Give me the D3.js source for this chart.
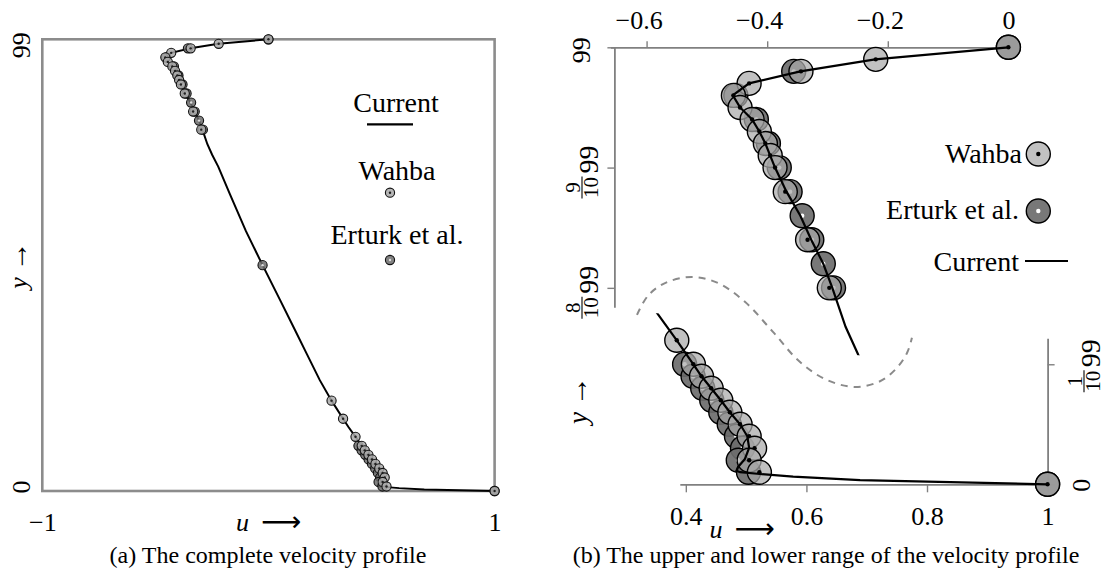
<!DOCTYPE html>
<html><head><meta charset="utf-8">
<script src="https://cdn.jsdelivr.net/npm/d3@7"></script>
<style>
body{margin:0;background:#fff}
text{font-family:'Liberation Serif','Times New Roman',serif;fill:#000}
</style>
</head><body>
<svg id="c" width="1108" height="576"></svg>
<script>
// ---------------- data ----------------
const currentY = [99, 98.01, 97.02, 96.03, 95.04, 94.05, 93.06, 92.07, 91.08, 90.09, 89.1, 87.12, 85.14, 83.16, 81.18, 79.2, 76, 73.7, 71.1, 65, 57, 49.5, 42, 35, 30, 24.3, 19.8, 15.84, 14.07, 11.88, 9.9, 8.91, 7.92, 6.93, 5.94, 4.95, 3.96, 3.0, 2.1, 1.45, 1.12, 1.0, 0.85, 0.63, 0.35, 0];
const currentU = [0, -0.221, -0.345, -0.43, -0.457, -0.445, -0.425, -0.413, -0.403, -0.395, -0.387, -0.368, -0.345, -0.327, -0.307, -0.292, -0.27, -0.249, -0.222, -0.17, -0.1, -0.026, 0.05, 0.12, 0.17, 0.227, 0.279, 0.330, 0.353, 0.385, 0.4125, 0.426, 0.442, 0.458, 0.473, 0.49, 0.502, 0.505, 0.498, 0.487, 0.484, 0.49, 0.523, 0.578, 0.689, 1];

const wahbaY = [99, 98.01, 97.02, 96.03, 95.04, 94.05, 93.06, 92.07, 91.08, 90.09, 89.1, 87.12, 83.16, 79.2, 19.8, 15.84, 11.88, 9.9, 8.91, 7.92, 6.93, 5.94, 4.95, 3.96, 2.97, 1.98, 0.99, 0];
const wahbaU = [0, -0.220, -0.344, -0.430, -0.456, -0.445, -0.425, -0.413, -0.403, -0.395, -0.387, -0.370, -0.333, -0.297, 0.279, 0.330, 0.385, 0.4125, 0.426, 0.442, 0.458, 0.473, 0.490, 0.505, 0.514, 0.505, 0.522, 1];

const erturkY = [99, 97.02, 95.04, 93.06, 91.08, 89.1, 87.12, 85.14, 83.16, 81.18, 79.2, 49.5, 9.9, 8.91, 7.92, 6.93, 5.94, 4.95, 3.96, 2.97, 1.98, 0.99, 0];
const erturkU = [0, -0.356, -0.452, -0.418, -0.398, -0.380, -0.362, -0.342, -0.326, -0.307, -0.290, -0.026, 0.398, 0.412, 0.428, 0.443, 0.458, 0.472, 0.484, 0.494, 0.487, 0.504, 1];

// dashed break mark between the two ranges (lower-range coordinates)
const breakU = [0.319, 0.337, 0.3655, 0.410, 0.4534, 0.498, 0.5445, 0.589, 0.634, 0.681, 0.722, 0.750, 0.767, 0.775];
const breakY = [13.97, 15.54, 16.6, 17.1, 16.6, 15.05, 12.57, 10.1, 8.6, 8.03, 8.5, 9.6, 10.85, 12.08];

const leftXTicks = [-1, 1];
const leftYTicks = [0, 99];
const upperXTicks = [-0.6, -0.4, -0.2, 0];
const upperYTicks = [99, 89.1, 79.2];
const upperYLabels = ["99", "9/10 99", "8/10 99"];
const lowerXTicks = [0.4, 0.6, 0.8, 1];
const lowerYTicks = [0, 9.9];
const lowerYLabels = ["0", "1/10 99"];

const seriesNames = ["Current", "Wahba", "Erturk et al."];
const captionA = "(a) The complete velocity profile";
const captionB = "(b) The upper and lower range of the velocity profile";

// ---------------- drawing ----------------
const svg = d3.select("#c");
const AXC = "#808080";
const WFILL = "#a9a9a9", EFILL = "#6c6c6c";
const fmt = d => {
  const s = Number.isInteger(d) ? String(Math.abs(d)) : d3.format(".1f")(Math.abs(d));
  return (d < 0 ? "\u2212" : "") + s;
};
const cur = currentY.map((y, i) => ({y, u: currentU[i]}));
const wah = wahbaY.map((y, i) => ({y, u: wahbaU[i]}));
const ert = erturkY.map((y, i) => ({y, u: erturkU[i]}));

// ===== Panel (a) =====
const xA = d3.scaleLinear([-1, 1], [42.3, 494.6]);
const yA = d3.scaleLinear([0, 99], [491, 39.3]);
const gA = svg.append("g");
gA.append("rect").attr("x", xA(-1)).attr("y", yA(99))
  .attr("width", xA(1) - xA(-1)).attr("height", yA(0) - yA(99))
  .attr("fill", "none").attr("stroke", "#8c8c8c").attr("stroke-width", 2.6);

const axA = gA.append("g").attr("transform", `translate(0,${yA(0)})`)
  .call(d3.axisBottom(xA).tickValues(leftXTicks).tickSize(0).tickPadding(22).tickFormat(fmt));
axA.select(".domain").remove();
axA.selectAll("text").attr("font-size", 26).attr("font-family", "'Liberation Serif',serif");

leftYTicks.forEach(v => {
  gA.append("text").attr("transform", `translate(30,${yA(v) + (v === 0 ? -4 : 6)}) rotate(-90)`)
    .attr("text-anchor", "middle").attr("font-size", 26).text(v);
});
// axis titles
const ua = gA.append("text").attr("x", xA(0)).attr("y", 531).attr("text-anchor", "middle").attr("font-size", 26);
ua.append("tspan").attr("font-style", "italic").text("u");
ua.append("tspan").attr("font-family", "'DejaVu Sans',sans-serif").attr("font-size", 28).attr("dx", 12).text("⟶");
const ya = gA.append("text").attr("transform", "translate(27,265) rotate(-90)").attr("text-anchor", "middle").attr("font-size", 26);
ya.append("tspan").attr("font-style", "italic").text("y");
ya.append("tspan").attr("dx", 6).attr("font-size", 30).text("→");

const lineA = d3.line().x(d => xA(d.u)).y(d => yA(d.y));
gA.append("path").datum(cur).attr("d", lineA).attr("fill", "none").attr("stroke", "#000").attr("stroke-width", 2);

function smallMarker(g, data, x, y, fill, dot) {
  const m = g.append("g").selectAll("g").data(data).join("g")
    .attr("transform", d => `translate(${x(d)},${y(d)})`);
  m.append("circle").attr("r", 4.6).attr("fill", fill).attr("fill-opacity", 0.85).attr("stroke", "#111").attr("stroke-width", 1.1);
  m.append("circle").attr("r", 1.2).attr("fill", dot);
}
smallMarker(gA, ert, d => xA(d.u), d => yA(d.y), EFILL, "#ddd");
smallMarker(gA, wah, d => xA(d.u), d => yA(d.y), WFILL, "#222");

// legend (a)
gA.append("text").attr("x", 396).attr("y", 112).attr("text-anchor", "middle").attr("font-size", 28).text(seriesNames[0]);
gA.append("line").attr("x1", 367).attr("x2", 413).attr("y1", 124.3).attr("y2", 124.3).attr("stroke", "#000").attr("stroke-width", 2.2);
gA.append("text").attr("x", 397).attr("y", 180).attr("text-anchor", "middle").attr("font-size", 28).text(seriesNames[1]);
smallMarker(gA, [0], () => 390, () => 192.7, WFILL, "#222");
gA.append("text").attr("x", 397).attr("y", 244).attr("text-anchor", "middle").attr("font-size", 28).text(seriesNames[2]);
smallMarker(gA, [0], () => 390, () => 260, EFILL, "#ddd");

gA.append("text").attr("x", 268).attr("y", 563).attr("text-anchor", "middle").attr("font-size", 24).text(captionA);

// ===== Panel (b) =====
const xU = d3.scaleLinear([-0.66, 0], [610.4, 1008.4]);
const yU = d3.scaleLinear([77.6, 99], [307.3, 47.3]);
const xL = d3.scaleLinear([0.39, 1], [679.8, 1047.6]);
const yL = d3.scaleLinear([0, 12.05], [484.3, 338.2]);
const gB = svg.append("g");

const defs = svg.append("defs");
defs.append("clipPath").attr("id", "clipU").append("rect").attr("x", 560).attr("y", 0).attr("width", 548).attr("height", yU(73.7) + 0.5);
defs.append("clipPath").attr("id", "clipL").append("rect").attr("x", 560).attr("y", yL(14.07) - 0.5).attr("width", 548).attr("height", 300);

// break mark
gB.append("path").datum(breakU.map((u, i) => ({u, y: breakY[i]})))
  .attr("d", d3.line().x(d => xL(d.u)).y(d => yL(d.y)).curve(d3.curveCatmullRom))
  .attr("fill", "none").attr("stroke", "#8a8a8a").attr("stroke-width", 2).attr("stroke-dasharray", "7,6");

function styleAxis(g) {
  g.select(".domain").attr("stroke", AXC).attr("stroke-width", 1.8);
  g.selectAll(".tick line").attr("stroke", AXC).attr("stroke-width", 1.4);
  g.selectAll("text").attr("font-size", 26).attr("font-family", "'Liberation Serif',serif");
}
// upper axes
const axUx = gB.append("g").attr("transform", `translate(0,${yU(99)})`)
  .call(d3.axisTop(xU).tickValues(upperXTicks).tickSize(6).tickSizeOuter(0).tickPadding(12).tickFormat(fmt));
styleAxis(axUx);
axUx.selectAll(".tick text").attr("dx", d => d < 0 ? -8 : 0);
const yAxisUX = xU.range()[0] + 4;
gB.append("g").attr("transform", `translate(${yAxisUX},0)`)
  .call(d3.axisLeft(yU).tickValues(upperYTicks).tickSize(7).tickSizeOuter(0).tickFormat(""))
  .call(styleAxis);
// lower axes
const axLx = gB.append("g").attr("transform", `translate(0,${yL(0)})`)
  .call(d3.axisBottom(xL).tickValues(lowerXTicks).tickSize(8).tickSizeOuter(0).tickPadding(14).tickFormat(fmt));
styleAxis(axLx);
gB.append("g").attr("transform", `translate(${xL(1)},0)`)
  .call(d3.axisRight(yL).tickValues(lowerYTicks).tickSize(7).tickSizeOuter(0).tickFormat(""))
  .call(styleAxis);

// rotated tick labels, with stacked fractions
function fracLabel(g, label, sx, sy) {
  const grp = g.append("g").attr("transform", `translate(${sx},${sy}) rotate(-90)`);
  const parts = label.split(" ");
  if (parts.length === 1) {
    grp.append("text").attr("text-anchor", "middle").attr("font-size", 26).text(parts[0]);
    return;
  }
  const [num, den] = parts[0].split("/");
  const fw = 22, fx = -14;
  grp.append("text").attr("x", fx).attr("y", -18.5).attr("text-anchor", "middle").attr("font-size", 21).text(num);
  grp.append("line").attr("x1", fx - fw / 2).attr("x2", fx + fw / 2).attr("y1", -16).attr("y2", -16).attr("stroke", "#000").attr("stroke-width", 1.1);
  grp.append("text").attr("x", fx).attr("y", 0).attr("text-anchor", "middle").attr("font-size", 21).text(den);
  grp.append("text").attr("x", 0).attr("y", 0).attr("text-anchor", "start").attr("font-size", 28).text(parts[1]);
}
upperYTicks.forEach((v, i) => fracLabel(gB, upperYLabels[i], i === 0 ? 590 : 598, yU(v) + (i === 0 ? 3 : 6)));
lowerYTicks.forEach((v, i) => fracLabel(gB, lowerYLabels[i], i === 0 ? 1090 : 1100, yL(v) + (i === 0 ? 1 : 3)));

// axis titles (b)
const ub = gB.append("text").attr("x", 742).attr("y", 538).attr("text-anchor", "middle").attr("font-size", 26);
ub.append("tspan").attr("font-style", "italic").text("u");
ub.append("tspan").attr("font-family", "'DejaVu Sans',sans-serif").attr("font-size", 28).attr("dx", 12).text("⟶");
const yb = gB.append("text").attr("transform", "translate(587,400) rotate(-90)").attr("text-anchor", "middle").attr("font-size", 27);
yb.append("tspan").attr("font-style", "italic").text("y");
yb.append("tspan").attr("dx", 6).attr("font-size", 30).text("→");

function bigMarkers(g, data, x, y, fill, op, dot, clip) {
  const m = g.append("g").attr("clip-path", `url(#${clip})`).selectAll("g").data(data).join("g")
    .attr("transform", d => `translate(${x(d.u)},${y(d.y)})`);
  m.append("circle").attr("r", 12).attr("fill", fill).attr("fill-opacity", op).attr("stroke", "#000").attr("stroke-width", 1.4);
  m.append("circle").attr("r", 2.2).attr("fill", dot);
}
const ertU = ert.filter(d => d.y > 70), ertL = ert.filter(d => d.y < 20);
const wahU = wah.filter(d => d.y > 70), wahL = wah.filter(d => d.y < 20);
bigMarkers(gB, ertU, xU, yU, EFILL, 0.92, "#fff", "clipU");
bigMarkers(gB, wahU, xU, yU, WFILL, 0.72, "#000", "clipU");
bigMarkers(gB, ertL, xL, yL, EFILL, 0.92, "#fff", "clipL");
bigMarkers(gB, wahL, xL, yL, WFILL, 0.72, "#000", "clipL");

gB.append("path").datum(cur).attr("clip-path", "url(#clipU)")
  .attr("d", d3.line().x(d => xU(d.u)).y(d => yU(d.y))).attr("fill", "none").attr("stroke", "#000").attr("stroke-width", 2.2);
gB.append("path").datum(cur).attr("clip-path", "url(#clipL)")
  .attr("d", d3.line().x(d => xL(d.u)).y(d => yL(d.y))).attr("fill", "none").attr("stroke", "#000").attr("stroke-width", 2.2);

// legend (b)
gB.append("text").attr("x", 1022).attr("y", 163).attr("text-anchor", "end").attr("font-size", 28).text(seriesNames[1]);
bigMarkers(gB, [{u: 0, y: 0}], () => 1038.3, () => 154, WFILL, 0.72, "#000", "none");
gB.append("text").attr("x", 1019).attr("y", 219).attr("text-anchor", "end").attr("font-size", 28).text(seriesNames[2]);
bigMarkers(gB, [{u: 0, y: 0}], () => 1038.3, () => 211, EFILL, 0.92, "#fff", "none");
gB.append("text").attr("x", 1019).attr("y", 271).attr("text-anchor", "end").attr("font-size", 28).text(seriesNames[0]);
gB.append("line").attr("x1", 1025).attr("x2", 1068).attr("y1", 261).attr("y2", 261).attr("stroke", "#000").attr("stroke-width", 2.2);

gB.append("text").attr("x", 826).attr("y", 563).attr("text-anchor", "middle").attr("font-size", 24).text(captionB);
</script>
</body></html>
